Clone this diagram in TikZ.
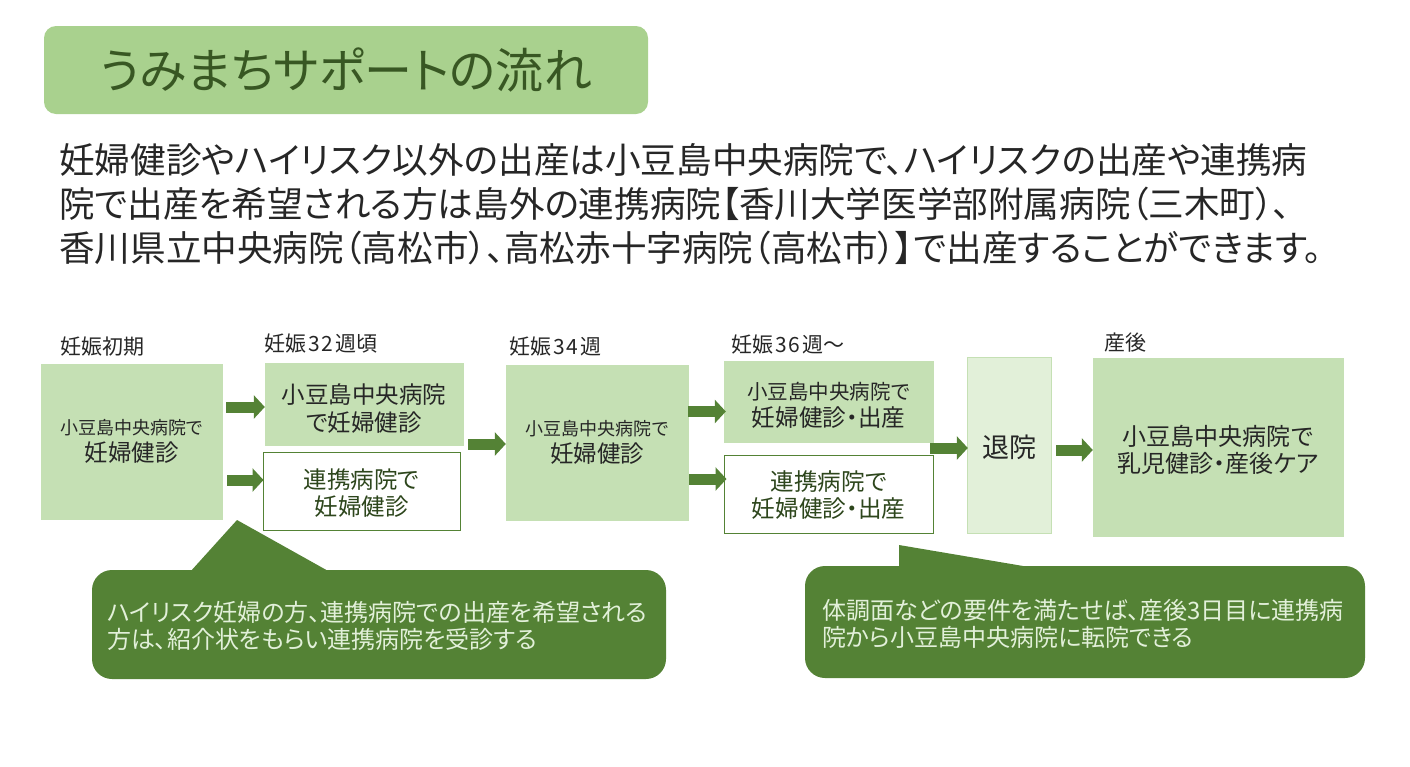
\documentclass[tikz,border=0pt]{standalone}
\usepackage{fontspec}
\setmainfont{Noto Sans CJK JP}[RawFeature=+palt]
\usetikzlibrary{arrows.meta}
\definecolor{titlegreen}{HTML}{A9D18E}
\definecolor{boxgreen}{HTML}{C5E0B4}
\definecolor{palegreen}{HTML}{E2F0D9}
\definecolor{darkgreen}{HTML}{548235}
\definecolor{titletext}{HTML}{385723}
\definecolor{bodytext}{HTML}{262626}
\newcommand{\fs}[2]{\fontsize{#1}{#2}\selectfont}
\newcommand{\topgap}[1]{\rule{0pt}{#1pt}}
\newcommand{\wk}[2]{\kern2pt #1\kern2pt #2\kern2pt }
\tikzset{
    stagebox/.style={fill=boxgreen,draw=boxgreen,inner sep=0pt,align=center,text=bodytext},
    linkbox/.style={fill=white,draw=darkgreen,line width=1pt,inner sep=0pt,align=center,text=titletext!80!black},
    stagelabel/.style={inner sep=0pt,anchor=west,text=bodytext,font=\fs{21}{24}},
    notebox/.style={fill=darkgreen,rounded corners=20pt,inner sep=0pt,align=left,text=palegreen},
    notetext/.style={inner sep=0pt,anchor=west,align=left,text=palegreen,font=\fs{24}{27.5}},
    blockarrow/.style={line width=11pt,draw=darkgreen,-{Triangle[length=11pt,width=23pt]},shorten >=0pt}
}

\begin{document}
\begin{tikzpicture}[x=1pt,y=-1pt]
    \useasboundingbox (0,0) rectangle (1410,766);

    % heading
    \node[fill=titlegreen,rounded corners=12pt,minimum width=604pt,minimum height=88pt,inner sep=0pt,
        text=titletext,font=\fs{48}{50}] (title) at (346,70) {うみまちサポートの流れ};
    \node[inner sep=0pt,anchor=west,align=left,text=bodytext,font=\fs{35.6}{44}] (intro) at (59,204)
        {妊婦健診やハイリスク以外の出産は小豆島中央病院で、ハイリスクの出産や連携病\\
         院で出産を希望される方は島外の連携病院【香川大学医学部附属病院（三木町）、\\
         香川県立中央病院（高松市）、高松赤十字病院（高松市）】で出産することができます。};

    % stage labels
    \node[stagelabel] (early) at (60,347) {妊娠初期};
    \node[stagelabel] (week32) at (264,344) {妊娠\wk{3}{2}週頃};
    \node[stagelabel] (week34) at (509,347) {妊娠\wk{3}{4}週};
    \node[stagelabel] (week36) at (731,345) {妊娠\wk{3}{6}週〜};
    \node[stagelabel] (after) at (1104,343) {産後};

    % boxes
    \node[stagebox,minimum width=181pt,minimum height=155pt,font=\fs{23.5}{27}] (first) at (131.5,441.5)
        {\fs{18}{27}小豆島中央病院で\\\fs{23.5}{27}妊婦健診};
    \node[stagebox,minimum width=198pt,minimum height=82pt,font=\fs{23.5}{28}] (centerA) at (364,404)
        {\topgap{28}小豆島中央病院\\で妊婦健診};
    \node[linkbox,minimum width=197pt,minimum height=78pt,font=\fs{23.5}{27}] (linkA) at (361.5,491)
        {\topgap{24}連携病院で\\妊婦健診};
    \node[stagebox,minimum width=182pt,minimum height=155pt,font=\fs{23.5}{27}] (second) at (597,442.5)
        {\fs{18}{27}小豆島中央病院で\\\fs{23.5}{27}妊婦健診};
    \node[stagebox,minimum width=209pt,minimum height=81pt,font=\fs{23.6}{27}] (centerB) at (828.5,401.5)
        {\topgap{24}\fs{20.5}{27}小豆島中央病院で\\\fs{23.6}{27}妊婦健診・出産};
    \node[linkbox,minimum width=209pt,minimum height=78pt,font=\fs{23.6}{27}] (linkB) at (828.5,494)
        {\topgap{22}連携病院で\\妊婦健診・出産};
    \node[stagebox,fill=palegreen,minimum width=84pt,minimum height=176pt,font=\fs{27}{30}] (leave) at (1009,445)
        {\topgap{27}退院};
    \node[stagebox,minimum width=250pt,minimum height=178pt,font=\fs{24}{27}] (care) at (1218,447)
        {\topgap{27}小豆島中央病院で\\乳児健診・産後ケア};

    % arrows
    \draw[blockarrow] ([shift={(4,3)}]first.east |- centerA.west) -- ([shift={(0,3)}]centerA.west);
    \draw[blockarrow] ([shift={(5,-11)}]first.east |- linkA.west) -- ([shift={(1,-11)}]linkA.west);
    \draw[blockarrow] ([shift={(5,1.5)}]centerA.east |- second.west) -- ([shift={(0,1.5)}]second.west);
    \draw[blockarrow] ([shift={(0,10)}]second.east |- centerB.west) -- ([shift={(2,10)}]centerB.west);
    \draw[blockarrow] ([shift={(1,-15)}]second.east |- linkB.west) -- ([shift={(3,-15)}]linkB.west);
    \draw[blockarrow] ([shift={(-3,3)}]centerB.east |- leave.west) -- ([shift={(1,3)}]leave.west);
    \draw[blockarrow] ([shift={(5,3)}]leave.east |- care.west) -- ([shift={(0,3)}]care.west);

    % notes
    \fill[darkgreen] (190,572) -- (237,520) -- (330,572) -- cycle;
    \node[notebox,minimum width=574pt,minimum height=109pt] (noteA) at (379,624.5) {};
    \node[notetext] (noteAtext) at (107,626)
        {ハイリスク妊婦の方、連携病院での出産を希望される\\方は、紹介状をもらい連携病院を受診する};
    \fill[darkgreen] (899,568) -- (899,545) -- (1035,568) -- cycle;
    \node[notebox,minimum width=560pt,minimum height=112pt] (noteB) at (1085,622) {};
    \node[notetext] (noteBtext) at (822,624)
        {体調面などの要件を満たせば、産後3日目に連携病\\院から小豆島中央病院に転院できる};
\end{tikzpicture}
\end{document}
